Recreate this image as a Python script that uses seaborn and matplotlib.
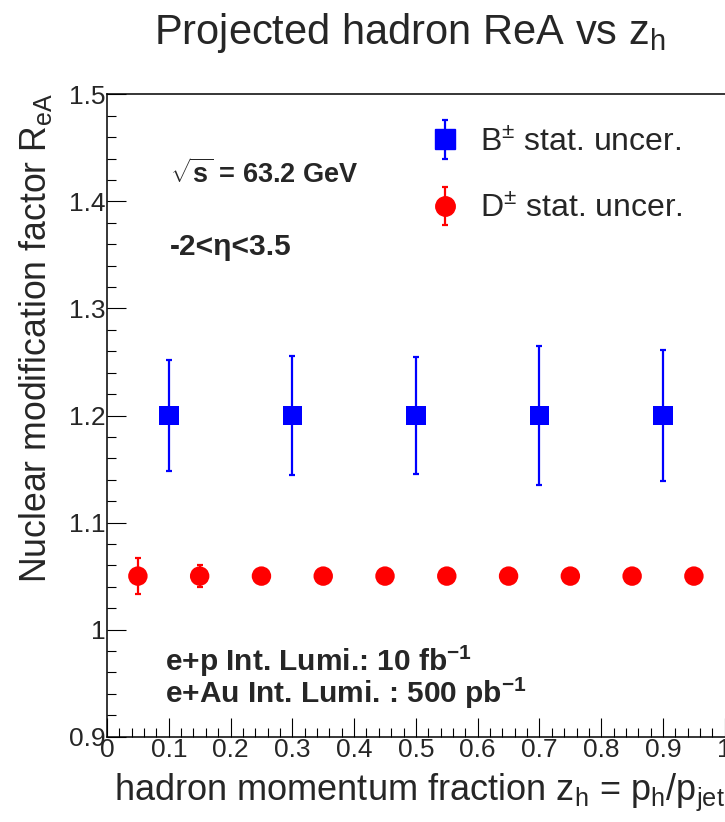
import numpy as np
import pandas as pd
import matplotlib
matplotlib.use("Agg")
import matplotlib.pyplot as plt
import seaborn as sns
from matplotlib.legend_handler import HandlerTuple, HandlerErrorbar
from matplotlib.container import ErrorbarContainer
from matplotlib.lines import Line2D

# ---- data ----
b_z = [0.1, 0.3, 0.5, 0.7, 0.9]
b_rea = [1.2, 1.2, 1.2, 1.2, 1.2]
b_err = [0.052, 0.056, 0.055, 0.065, 0.061]

d_z = [0.05, 0.15, 0.25, 0.35, 0.45, 0.55, 0.65, 0.75, 0.85, 0.95]
d_rea = [1.05] * 10
d_err = [0.017, 0.010, 0.006, 0.005, 0.004, 0.004, 0.004, 0.004, 0.004, 0.004]

x_ticks = [0, 0.1, 0.2, 0.3, 0.4, 0.5, 0.6, 0.7, 0.8, 0.9, 1]
x_ticklabels = ["0", "0.1", "0.2", "0.3", "0.4", "0.5", "0.6", "0.7", "0.8", "0.9", "1"]
y_ticks = [0.9, 1.0, 1.1, 1.2, 1.3, 1.4, 1.5]
y_ticklabels = ["0.9", "1", "1.1", "1.2", "1.3", "1.4", "1.5"]

sns.set_theme(style="white")
FONT = "Liberation Sans"
plt.rcParams["font.family"] = [FONT, "DejaVu Sans"]
plt.rcParams["mathtext.fontset"] = "custom"
plt.rcParams["mathtext.rm"] = FONT
plt.rcParams["mathtext.it"] = FONT
plt.rcParams["mathtext.bf"] = FONT + ":bold"

fig = plt.figure(figsize=(7.25, 8.22), dpi=100)
fig.patch.set_facecolor("white")
ax = fig.add_axes([107 / 725, 1 - 736.7 / 822, 617.8 / 725, (736.7 - 94.3) / 822])
ax.set_facecolor("white")

dfb = pd.DataFrame({"z": b_z, "rea": b_rea})
dfd = pd.DataFrame({"z": d_z, "rea": d_rea})

eb_b = ax.errorbar(b_z, b_rea, yerr=b_err, fmt="none", ecolor="#0000ff",
                   elinewidth=1.6, capsize=2.5, capthick=1.6, zorder=2)
eb_d = ax.errorbar(d_z, d_rea, yerr=d_err, fmt="none", ecolor="#ff0000",
                   elinewidth=1.6, capsize=2.5, capthick=1.6, zorder=2)
sns.scatterplot(data=dfb, x="z", y="rea", marker="s", s=14 ** 2, color="#0000ff",
                edgecolor="none", linewidth=0, ax=ax, zorder=3, legend=False)
sns.scatterplot(data=dfd, x="z", y="rea", marker="o", s=14 ** 2, color="#ff0000",
                edgecolor="none", linewidth=0, ax=ax, zorder=3, legend=False)

ax.set_xlim(0, 1)
ax.set_ylim(0.9, 1.5)
ax.set_xlabel("")
ax.set_ylabel("")
ax.set_xticks(x_ticks)
ax.set_xticklabels(x_ticklabels)
ax.set_yticks(y_ticks)
ax.set_yticklabels(y_ticklabels)
ax.set_xticks(np.arange(0, 1.0001, 0.02), minor=True)
ax.set_yticks(np.arange(0.9, 1.5001, 0.02), minor=True)
ax.tick_params(axis="both", which="major", direction="in", length=13.5, width=0.8,
               color="black", labelsize=19, pad=2, left=True, bottom=True, top=False, right=False)
ax.tick_params(axis="both", which="minor", direction="in", length=6.5, width=0.8,
               color="black", left=True, bottom=True, top=False, right=False)
ax.tick_params(axis="y", which="major", pad=1)
ax.tick_params(axis="x", which="major", pad=1)
for s in ["left", "bottom", "top"]:
    ax.spines[s].set_visible(True)
    ax.spines[s].set_color("black")
    ax.spines[s].set_linewidth(1.1)
ax.spines["right"].set_visible(False)

# legend
hb = Line2D([], [], marker="s", color="#0000ff", linestyle="none", markersize=14)
hd = Line2D([], [], marker="o", color="#ff0000", linestyle="none", markersize=14)
leg = ax.legend([(eb_b, hb), (eb_d, hd)],
                [r"B$^{\pm}$ stat. uncer.", r"D$^{\pm}$ stat. uncer."],
                handler_map={tuple: HandlerTuple(ndivide=1),
                             ErrorbarContainer: HandlerErrorbar(xerr_size=0.6)},
                loc="upper left", bbox_to_anchor=(0.474, 0.988), frameon=False,
                fontsize=23, handlelength=1.2, handletextpad=0.5, labelspacing=1.15,
                borderpad=0.3)

# annotations
ax.text(0.102, 1.417, r"$\mathbf{\sqrt{s}}$ = 63.2 GeV", fontsize=19.5, fontweight="bold")
ax.text(0.102, 1.35, "-2<η<3.5", fontsize=21.5, fontweight="bold")
ax.text(0.094, 0.9615, r"e+p Int. Lumi.: 10 fb$^{\mathbf{-1}}$", fontsize=21.5, fontweight="bold")
ax.text(0.094, 0.9317, r"e+Au Int. Lumi. : 500 pb$^{\mathbf{-1}}$", fontsize=21.5, fontweight="bold")

fig.text(0.566, 1 - 44 / 822, r"Projected hadron ReA vs z$_{\rm h}$", fontsize=30,
         ha="center", va="baseline")
fig.text(1.0, 1 - 800 / 822, r"hadron momentum fraction z$_{\rm h}$ = p$_{\rm h}$/p$_{\rm jet}$",
         fontsize=26, ha="right", va="baseline")
fig.text(36 / 725, 1 - 93 / 822, r"Nuclear modification factor R$_{\rm eA}$",
         fontsize=25.7, ha="center", va="top", rotation=90)

fig.savefig("out.png", dpi=100, facecolor="white")
